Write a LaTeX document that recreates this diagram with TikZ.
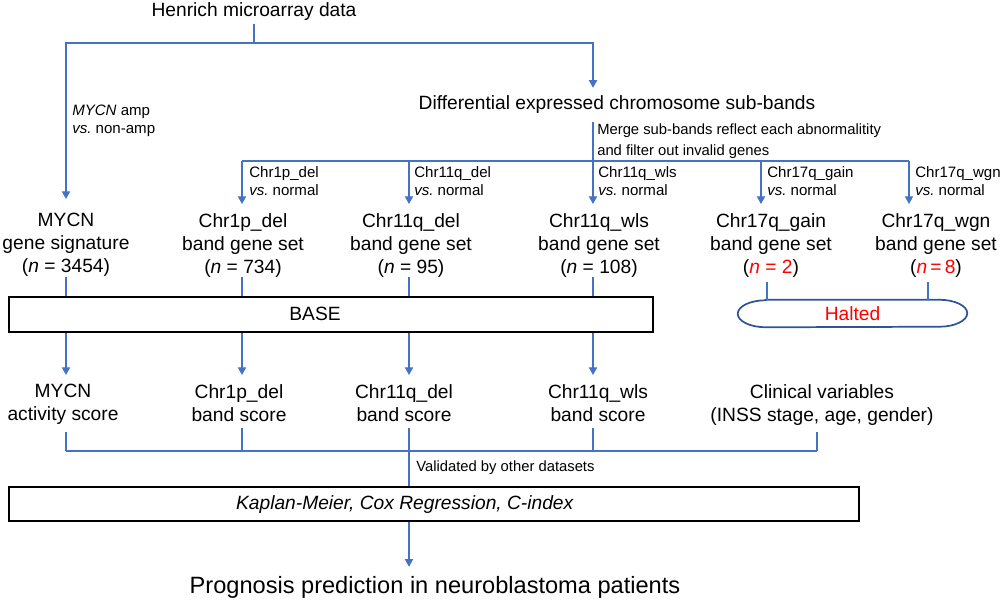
\documentclass[tikz,border=0pt]{standalone}
\usepackage{fontspec}
\setmainfont{Liberation Sans}
\usetikzlibrary{arrows.meta}
\definecolor{lblue}{RGB}{68,114,196}
\definecolor{dblue}{RGB}{47,85,151}
\definecolor{hred}{RGB}{255,0,0}
\frenchspacing
\begin{document}
\begin{tikzpicture}[x=0.75pt,y=-0.75pt,
  line/.style={draw=lblue,line width=1pt},
  arr/.style={line,-{Triangle[length=5.8pt,width=6.2pt]}},
  big/.style={font=\fontsize{14.4}{17.25}\selectfont,inner sep=0pt,align=center},
  small/.style={font=\fontsize{11.3}{13.5}\selectfont,inner sep=0pt,align=left},
  box/.style={draw=black,line width=1.4pt,inner sep=0pt}
]
\useasboundingbox (0,0) rectangle (1003,600);

% column coordinates
\coordinate (c0) at (66,0);
\coordinate (c1) at (242,0);
\coordinate (c2) at (409,0);
\coordinate (c3) at (593,0);
\coordinate (c4) at (761,0);
\coordinate (c5) at (909,0);
\coordinate (c4b) at (767,0);
\coordinate (c5b) at (928,0);
\coordinate (c6) at (817,0);
\coordinate (j0) at (254,43);
\coordinate (j1) at (593,161);
\coordinate (br) at (409,451);

% texts
\node[big] (henrich) at (254,11.5) {Henrich microarray data};
\node[big] (diff) at (617,105) {Differential expressed chromosome sub-bands};
\node[small,anchor=north west] (mycnlab) at (72,104.5) {\textit{MYCN} amp\\\textit{vs.} non-amp};
\node[anchor=north west,inner sep=0pt,align=left,font=\fontsize{11.1}{15.75}\selectfont] (merge) at (597,124) {Merge sub-bands reflect each abnormalitity\\and filter out invalid genes};

\node[small,anchor=north west] (l1) at (249,166) {Chr1p\_del\\\textit{vs.} normal};
\node[small,anchor=north west] (l2) at (414,166) {Chr11q\_del\\\textit{vs.} normal};
\node[small,anchor=north west] (l3) at (598,166) {Chr11q\_wls\\\textit{vs.} normal};
\node[small,anchor=north west] (l4) at (767,166) {Chr17q\_gain\\\textit{vs.} normal};
\node[small,anchor=north west] (l5) at (915,166) {Chr17q\_wgn\\\textit{vs.} normal};

\node[big,anchor=north] (g0) at (66,213) {MYCN\\gene signature\\(\textit{n} = 3454)};
\node[big,anchor=north] (g1) at (243,213) {Chr1p\_del\\band gene set\\(\textit{n} = 734)};
\node[big,anchor=north] (g2) at (411,213) {Chr11q\_del\\band gene set\\(\textit{n} = 95)};
\node[big,anchor=north] (g3) at (599,213) {Chr11q\_wls\\band gene set\\(\textit{n} = 108)};
\node[big,anchor=north] (g4) at (771,213) {Chr17q\_gain\\band gene set\\(\textcolor{hred}{\textit{n} = 2})};
\node[big,anchor=north] (g5) at (936,213) {Chr17q\_wgn\\band gene set\\(\textcolor{hred}{\textit{n}\,=\,8})};

% BASE box
\node[box,minimum width=483pt,minimum height=26.25pt] (base) at (331,314.5) {};
\node[big] (basetxt) at (315,313.5) {BASE};

% Halted pill
\node[inner sep=0pt,minimum width=171.75pt,minimum height=20.25pt,text=hred,font=\fontsize{14.4}{17.25}\selectfont] (halt) at (852.5,313.5) {Halted};
\draw[dblue,line width=1.3pt] ([xshift=21pt]halt.north west) -- ([xshift=-21pt]halt.north east)
  arc[start angle=90,end angle=-90,x radius=21pt,y radius=10.125pt]
  -- ([xshift=21pt]halt.south west)
  arc[start angle=270,end angle=90,x radius=21pt,y radius=10.125pt] -- cycle;

% scores
\node[big,anchor=north] (s0) at (63,384) {MYCN\\activity score};
\node[big,anchor=north] (s1) at (239,384) {Chr1p\_del\\band score};
\node[big,anchor=north] (s2) at (404,384) {Chr11q\_del\\band score};
\node[big,anchor=north] (s3) at (598,384) {Chr11q\_wls\\band score};
\node[big,anchor=north] (s4) at (822,384) {Clinical variables\\(INSS stage, age, gender)};

\node[anchor=west,inner sep=0pt,font=\fontsize{11.1}{13}\selectfont] (valid) at (416,468) {Validated by other datasets};

% Kaplan box
\node[box,minimum width=637.5pt,minimum height=25.5pt] (kap) at (434,504) {};
\node[big] (kaptxt) at (405,505) {\textit{Kaplan-Meier, Cox Regression, C-index}};

\node[inner sep=0pt,font=\fontsize{17.7}{21}\selectfont] (final) at (435,587) {Prognosis prediction in neuroblastoma patients};

% connectors
\draw[line,shorten <=2.25pt] (henrich.south) -- (j0);
\draw[arr,shorten >=10.5pt] (j0) -| (c0 |- g0.north);
\draw[arr,shorten >=6pt] (j0) -| (c3 |- diff.north);
\draw[line,shorten <=6pt] (c3 |- diff.south) -- (j1);
\draw[line] (c1 |- j1) -- (c5 |- j1);
\foreach \cc/\nn in {c1/g1,c2/g2,c3/g3,c4/g4,c5/g5}
  \draw[arr,shorten >=6.75pt] (\cc |- j1) -- (\cc |- \nn.north);
\foreach \cc/\nn in {c0/g0,c1/g1,c2/g2,c3/g3}
  \draw[line] (\cc |- \nn.south) -- (\cc |- base.north);
\draw[line,shorten <=3.5pt] (c4b |- g4.south) -- (c4b |- halt.north);
\draw[line,shorten <=3.5pt] (c5b |- g5.south) -- (c5b |- halt.north);
\foreach \cc/\nn in {c0/s0,c1/s1,c2/s2,c3/s3}
  \draw[arr,shorten >=6.75pt] (\cc |- base.south) -- (\cc |- \nn.north);
\foreach \cc/\nn in {c0/s0,c1/s1,c3/s3,c6/s4}
  \draw[line,shorten <=5pt] (\cc |- \nn.south) -- (\cc |- br);
\draw[line] (c0 |- br) -- (c6 |- br);
\draw[line,shorten <=5pt] (c2 |- s2.south) -- (c2 |- kap.north);
\draw[arr,shorten >=6.75pt] (c2 |- kap.south) -- (c2 |- final.north);
\end{tikzpicture}
\end{document}
